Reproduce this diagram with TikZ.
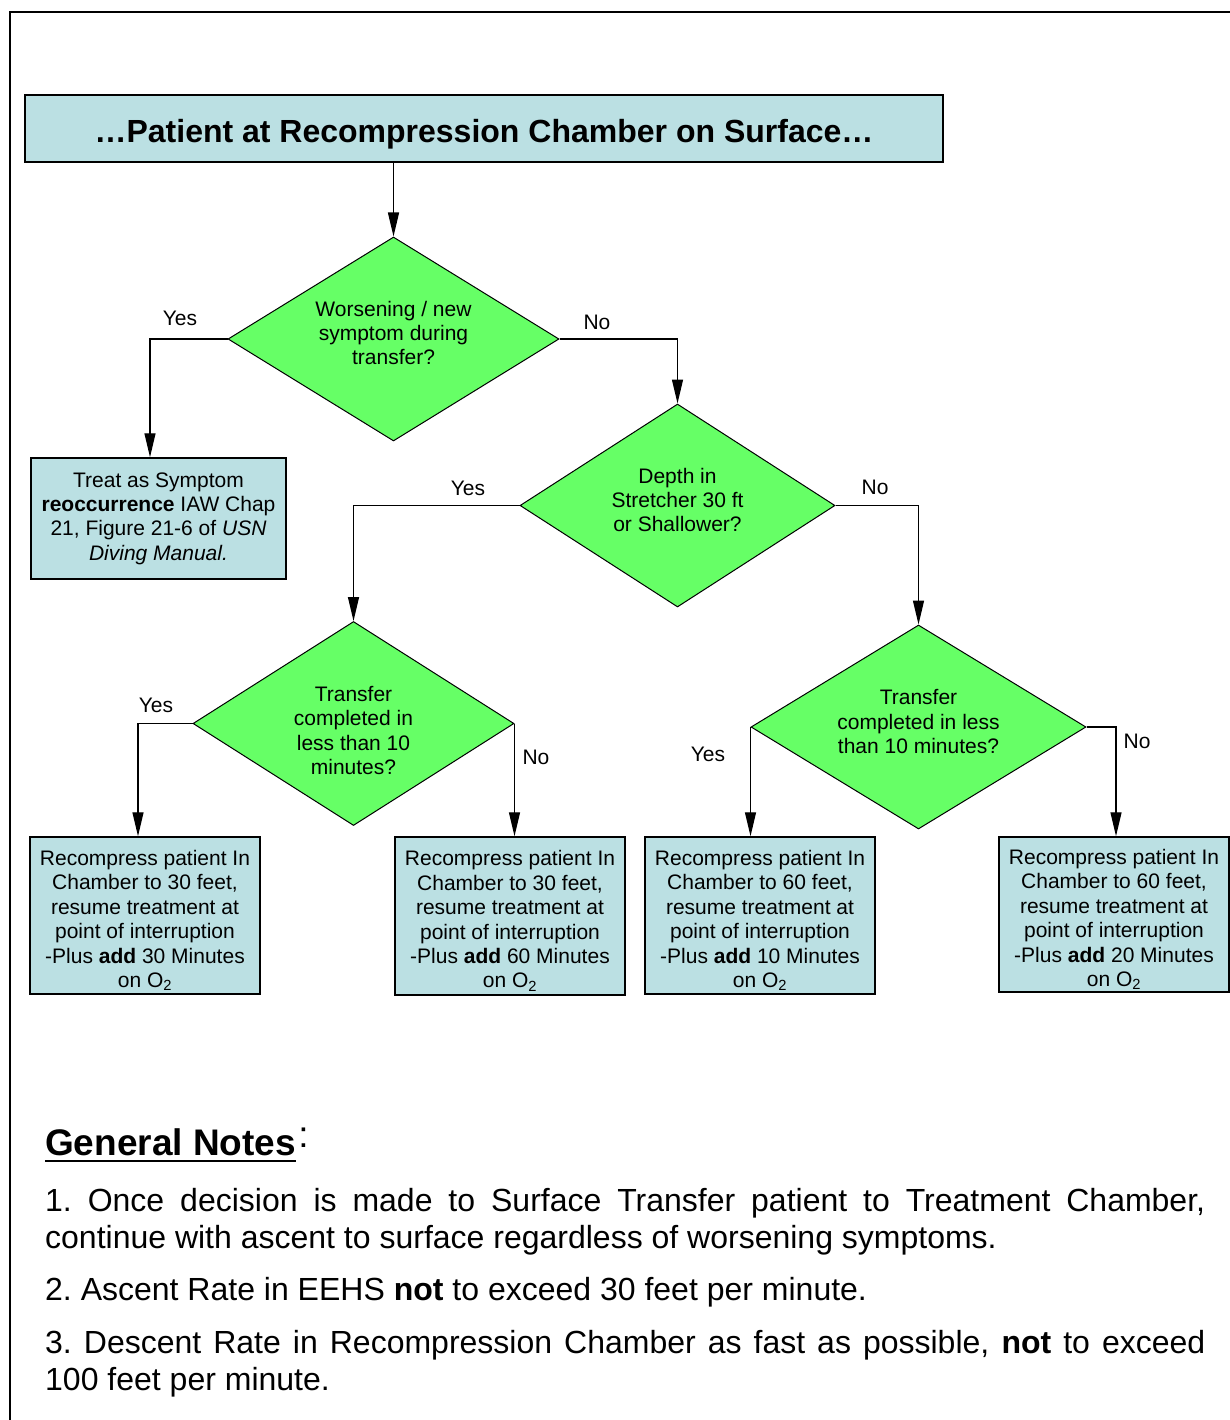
\documentclass[tikz,border=0pt]{standalone}
\usepackage{fontspec}
\setmainfont{Liberation Sans}
\usetikzlibrary{shapes.geometric,arrows.meta}
\definecolor{boxblue}{HTML}{BBE0E3}
\definecolor{diagreen}{HTML}{66FF66}
\newcommand{\topstrut}{\rule{0pt}{25pt}}
\begin{document}
\frenchspacing
\begin{tikzpicture}[x=1pt,y=-1pt,
  every node/.style={font=\fontsize{21}{24.4}\selectfont\frenchspacing, inner sep=0pt},
  hdrbox/.style={draw, line width=1.4pt, fill=boxblue, minimum width=918, minimum height=67, text height=36pt, text depth=7pt, font=\fontsize{32}{36}\selectfont\bfseries},
  actbox/.style={draw, line width=1.5pt, fill=boxblue, align=center},
  dia/.style={shape=diamond, draw, fill=diagreen, line width=1pt},
  diatext/.style={align=center},
  lbl/.style={},
  conn/.style={line width=1.3pt, -{Triangle[length=24pt,width=11pt]}},
  note/.style={anchor=base west, font=\fontsize{32}{37}\selectfont\frenchspacing}
]
\useasboundingbox (0,0) rectangle (1230,1420);
% outer frame
\draw[line width=2pt] (10,1422) -- (10,12) -- (1232,12);

% header
\node[hdrbox] (hdr) at (484,128.5) {…Patient at Recompression Chamber on Surface…};

% diamonds
\node[dia, minimum width=331, minimum height=204] (d1) at (393.5,339) {};
\node[diatext] (d1t) at (393.5,333) {Worsening / new\\symptom during\\transfer?};
\node[dia, minimum width=315, minimum height=203] (d2) at (677.5,505.5) {};
\node[diatext] (d2t) at (677.5,500) {Depth in\\Stretcher 30 ft\\or Shallower?};
\node[dia, minimum width=321, minimum height=204] (d3) at (353.5,723.5) {};
\node[diatext] (d3t) at (353.5,730.5) {Transfer\\completed in\\less than 10\\minutes?};
\node[dia, minimum width=335, minimum height=204] (d4) at (918.5,727) {};
\node[diatext] (d4t) at (918.5,721.5) {Transfer\\completed in less\\than 10 minutes?};

% action boxes
\node[actbox, minimum width=255, minimum height=121] (b0) at (158.5,518.5)
  {Treat as Symptom\\\textbf{reoccurrence} IAW Chap\\21, Figure 21-6 of \textit{USN}\\\textit{Diving Manual.}};
\node[actbox, minimum width=230, minimum height=157] (b1) at (145,915.5)
  {\topstrut Recompress patient In\\Chamber to 30 feet,\\resume treatment at\\point of interruption\\-Plus \textbf{add} 30 Minutes\\on O\textsubscript{2}};
\node[actbox, minimum width=230, minimum height=158] (b2) at (510,916)
  {\topstrut Recompress patient In\\Chamber to 30 feet,\\resume treatment at\\point of interruption\\-Plus \textbf{add} 60 Minutes\\on O\textsubscript{2}};
\node[actbox, minimum width=230, minimum height=157] (b3) at (760,915.5)
  {\topstrut Recompress patient In\\Chamber to 60 feet,\\resume treatment at\\point of interruption\\-Plus \textbf{add} 10 Minutes\\on O\textsubscript{2}};
\node[actbox, minimum width=230, minimum height=155] (b4) at (1114,914.5)
  {\topstrut Recompress patient In\\Chamber to 60 feet,\\resume treatment at\\point of interruption\\-Plus \textbf{add} 20 Minutes\\on O\textsubscript{2}};

% bend coordinates
\coordinate (c1) at (150,339);
\coordinate (c2) at (138,723.5);
\coordinate (c3) at (1116,727);

% connectors
\draw[conn] (d1.north |- hdr.south) -- (d1.north);
\draw[conn] (d1.west) -- (c1) -- (c1 |- b0.north);
\draw[conn] (d1.east) -| (d2.north);
\draw[conn] (d2.west) -| (d3.north);
\draw[conn] (d2.east) -| (d4.north);
\draw[conn] (d3.west) -- (c2) -- (c2 |- b1.north);
\draw[conn] (d3.east) -- (d3.east |- b2.north);
\draw[conn] (d4.west) -- (d4.west |- b3.north);
\draw[conn] (d4.east) -- (c3) -- (c3 |- b4.north);

% labels
\node[lbl] (l1) at (180,318) {Yes};
\node[lbl] (l2) at (597,322) {No};
\node[lbl] (l3) at (468,488) {Yes};
\node[lbl] (l4) at (875,487) {No};
\node[lbl] (l5) at (156,705) {Yes};
\node[lbl] (l6) at (536,757) {No};
\node[lbl] (l7) at (708,754) {Yes};
\node[lbl] (l8) at (1137,741) {No};

% general notes
\node[anchor=base west, font=\fontsize{37}{40}\selectfont\bfseries] (gn) at (45,1155) {General Notes};
\draw[line width=2.6pt] ([yshift=-6pt]gn.base west) -- ([yshift=-6pt]gn.base east);
\node[anchor=base west, font=\fontsize{37}{37}\selectfont] (gc) at ([xshift=2pt,yshift=8pt]gn.base east) {:};

\node[note] (n1a) at (45,1211) {\makebox[1160pt][s]{1. Once decision is made to Surface Transfer patient to Treatment Chamber,}};
\node[note] (n1b) at (45,1248) {continue with ascent to surface regardless of worsening symptoms.};
\node[note] (n2) at (45,1300) {2. Ascent Rate in EEHS \textbf{not} to exceed 30 feet per minute.};
\node[note] (n3a) at (45,1353) {\makebox[1160pt][s]{3. Descent Rate in Recompression Chamber as fast as possible, \textbf{not} to exceed}};
\node[note] (n3b) at (45,1390) {100 feet per minute.};
\end{tikzpicture}
\end{document}
